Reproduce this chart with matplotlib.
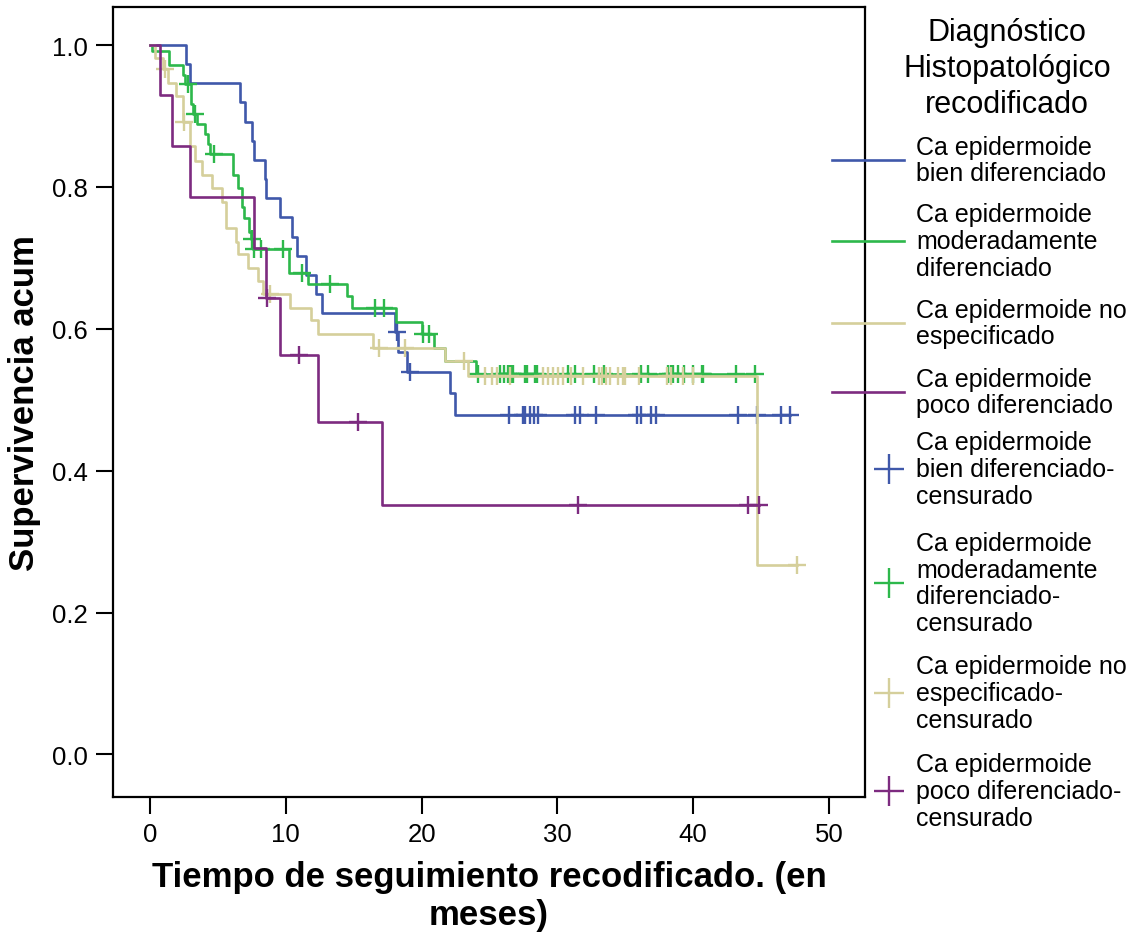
import matplotlib
matplotlib.use("Agg")
import matplotlib.pyplot as plt
import numpy as np
from matplotlib.lines import Line2D
from matplotlib.ticker import FormatStrFormatter

plt.rcParams['font.family'] = ['Liberation Sans', 'DejaVu Sans']

# Kaplan-Meier steps: event times (meses) and survival after each step
blue_t = [2.65, 2.95, 6.63, 7.0, 7.5, 7.66, 8.45, 8.57, 9.6, 10.47, 10.82, 11.5, 12.2, 12.7,
          18.08, 18.28, 18.95, 22.1, 22.46]
blue_s = [0.973, 0.946, 0.919, 0.892, 0.865, 0.838, 0.811, 0.784, 0.757, 0.730, 0.703, 0.676,
          0.649, 0.622, 0.595, 0.567, 0.539, 0.509, 0.479]
blue_cens = [18.2, 19.15, 26.46, 27.49, 27.61, 27.98, 28.28, 28.55, 31.33, 31.66, 32.86, 35.84,
             36.17, 36.88, 37.24, 43.32, 44.7, 46.44, 47.13]

green_t = [0.15, 1.42, 2.4, 2.58, 3.0, 3.14, 3.49, 4.05, 4.3, 4.42, 6.08, 6.46, 6.8, 6.95, 7.29,
           7.44, 7.61, 10.24, 11.66, 14.48, 14.85, 18.11, 20.05, 20.91, 21.72, 24.0]
green_s = [0.992, 0.972, 0.958, 0.945, 0.917, 0.903, 0.889, 0.874, 0.860, 0.846, 0.817, 0.799,
           0.772, 0.756, 0.736, 0.726, 0.712, 0.679, 0.663, 0.646, 0.629, 0.609, 0.592, 0.573,
           0.555, 0.536]
green_cens = [2.8, 3.31, 4.71, 7.5, 7.68, 8.17, 9.82, 11.17, 13.25, 16.57, 17.23, 20.13, 20.57,
              24.18, 25.77, 26.07, 26.38, 26.51, 26.63, 26.75, 27.61, 27.78, 28.35, 28.52, 30.8,
              31.33, 32.7, 33.4, 36.12, 36.69, 38.17, 38.35, 38.54, 38.9, 39.35, 40.0, 40.62,
              40.74, 43.15, 44.58]

khaki_t = [0.4, 0.98, 1.35, 1.91, 2.4, 2.95, 3.3, 3.8, 4.54, 5.28, 5.57, 6.3, 6.46, 7.19, 7.98,
           8.35, 10.31, 11.83, 12.4, 16.4, 21.72, 23.44, 44.72]
khaki_s = [0.982, 0.966, 0.946, 0.928, 0.892, 0.857, 0.837, 0.817, 0.799, 0.779, 0.742, 0.723,
           0.705, 0.686, 0.668, 0.649, 0.629, 0.613, 0.592, 0.573, 0.555, 0.534, 0.267]
khaki_cens = [1.1, 2.5, 8.84, 16.89, 18.78, 23.15, 24.67, 25.16, 25.53, 26.5, 28.93, 29.3, 29.7,
              30.07, 30.43, 30.98, 31.86, 33.1, 33.27, 33.58, 33.87, 34.48, 34.85, 34.98, 36.03,
              38.05, 38.34, 39.23, 40.0, 47.67]

purple_t = [0.74, 1.6, 2.95, 7.68, 8.54, 9.57, 12.35, 17.06]
purple_s = [0.929, 0.857, 0.786, 0.714, 0.643, 0.563, 0.469, 0.352]
purple_cens = [8.62, 10.97, 15.34, 31.49, 44.0, 44.87]

labels = ["Ca epidermoide\nbien diferenciado",
          "Ca epidermoide\nmoderadamente\ndiferenciado",
          "Ca epidermoide no\nespecificado",
          "Ca epidermoide\npoco diferenciado"]
cens_labels = ["Ca epidermoide\nbien diferenciado-\ncensurado",
               "Ca epidermoide\nmoderadamente\ndiferenciado-\ncensurado",
               "Ca epidermoide no\nespecificado-\ncensurado",
               "Ca epidermoide\npoco diferenciado-\ncensurado"]
colors = ['#3F58AA', '#2DB84B', '#D5CF9B', '#7D2B80']

groups = [(blue_t, blue_s, blue_cens), (green_t, green_s, green_cens),
          (khaki_t, khaki_s, khaki_cens), (purple_t, purple_s, purple_cens)]


def km_at(ev_t, surv, t):
    i = np.searchsorted(ev_t, t, side='right') - 1
    return 1.0 if i < 0 else surv[i]


W, H = 1136, 937
fig = plt.figure(figsize=(W / 100, H / 100), dpi=100)
ax = fig.add_axes([113 / W, 1 - 798 / H, 752 / W, 790 / H])

for (et, s, cens), c in zip(groups, colors):
    end = max(cens[-1], et[-1])
    ax.step([0] + et + [end], [1.0] + s + [s[-1]], where='post', color=c, lw=1.9)
    ax.plot(cens, [km_at(et, s, t) for t in cens], ls='none', marker='+',
            ms=12.5, mew=1.7, color=c)

ax.set_xlim(-2.72, 52.65)
ax.set_ylim(-0.06, 1.0536)
ax.set_xticks([0, 10, 20, 30, 40, 50])
ax.set_yticks([0.0, 0.2, 0.4, 0.6, 0.8, 1.0])
ax.yaxis.set_major_formatter(FormatStrFormatter('%.1f'))
ax.tick_params(length=12, width=1.5, labelsize=18.5, pad=6)
for sp in ax.spines.values():
    sp.set_linewidth(1.6)

ax.set_ylabel("Supervivencia acum", fontsize=25, fontweight='bold', labelpad=8)
ax.set_xlabel("Tiempo de seguimiento recodificado. (en\nmeses)", fontsize=25,
              fontweight='bold', labelpad=10, linespacing=1.2)

# legend, drawn by hand to the right of the frame
fig.text(1007 / W, 1 - 69 / H, "Diagnóstico\nHistopatológico\nrecodificado",
         ha='center', va='center', fontsize=22, linespacing=1.25)
line_y = [161, 242, 324, 393]
cens_y = [470, 584, 694, 792]
for c, lab, y in zip(colors, labels, line_y):
    fig.add_artist(Line2D([832 / W, 904 / W], [1 - y / H] * 2, color=c, lw=1.9))
    fig.text(916 / W, 1 - y / H, lab, ha='left', va='center', fontsize=18, linespacing=1.15)
for c, lab, y in zip(colors, cens_labels, cens_y):
    fig.add_artist(Line2D([889 / W], [1 - y / H], marker='+', ms=22, mew=1.7, color=c))
    fig.text(916 / W, 1 - y / H, lab, ha='left', va='center', fontsize=18, linespacing=1.15)

fig.savefig("out.png", dpi=100)
